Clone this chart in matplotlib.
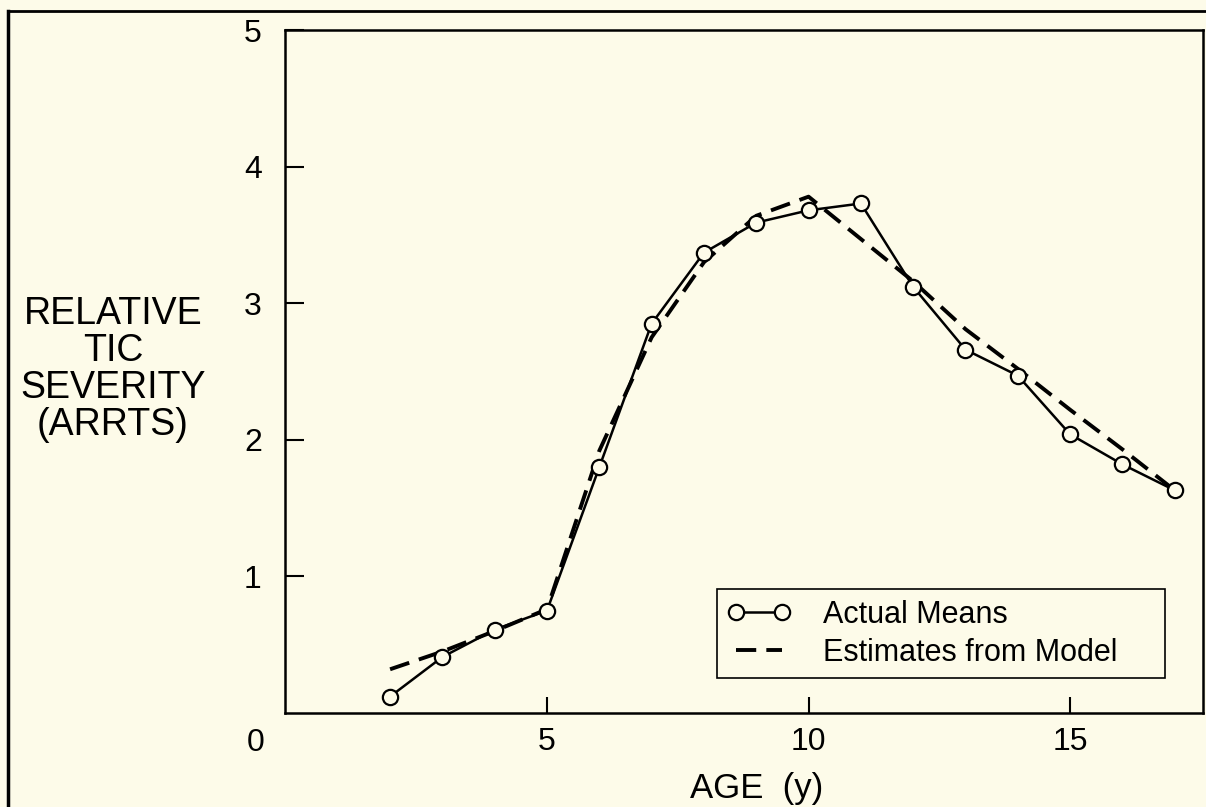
import matplotlib
matplotlib.use("Agg")
import matplotlib.pyplot as plt
from matplotlib.lines import Line2D

plt.rcParams["font.family"] = ["Liberation Sans", "DejaVu Sans"]

# 年齢ごとの平均値（実測）とモデル推定値
ages = [2, 3, 4, 5, 6, 7, 8, 9, 10, 11, 12, 13, 14, 15, 16, 17]
actual_means = [0.12, 0.41, 0.61, 0.75, 1.80, 2.85, 3.37, 3.59,
                3.68, 3.73, 3.12, 2.66, 2.47, 2.04, 1.82, 1.63]
model_est = [0.32, 0.45, 0.60, 0.76, 1.92, 2.75, 3.30, 3.64,
             3.78, 3.47, 3.16, 2.81, 2.52, 2.22, 1.93, 1.63]

x_ticks = [5, 10, 15]
y_ticks = [1, 2, 3, 4, 5]

bg = "#fdfbe9"

fig = plt.figure(figsize=(12.06, 8.07), dpi=100, facecolor=bg)
ax = fig.add_axes([0.2367, 0.1165, 0.7608, 0.8463], facecolor=bg)

ax.plot(ages, actual_means, color="black", lw=1.8, marker="o", ms=11,
        mfc=bg, mec="black", mew=1.6, label="Actual Means", zorder=3)
est_line, = ax.plot(ages, model_est, color="black", lw=2.8, ls="--",
                    label="Estimates from Model", zorder=2)
est_line.set_dashes((5.2, 2.6))

ax.set_xlim(0, 17.54)
ax.set_ylim(0, 5)
ax.set_xticks(x_ticks)
ax.set_yticks(y_ticks)
ax.tick_params(axis="x", direction="in", length=11.5, width=1.5,
               labelsize=23, pad=10)
ax.tick_params(axis="y", direction="in", length=14, width=1.5,
               labelsize=23, pad=17)
for s in ax.spines.values():
    s.set_linewidth(1.8)

# 原点の "0"
ax.annotate("0", xy=(0, 0), xycoords="axes fraction", xytext=(-30, -30),
            textcoords="offset pixels", ha="center", va="center", fontsize=23)

ax.set_xlabel("AGE  (y)", fontsize=25)
ax.xaxis.set_label_coords(0.514, -0.111)
ax.xaxis.label.set_va("center")
ax.set_ylabel("RELATIVE\nTIC\nSEVERITY\n(ARRTS)", fontsize=27, rotation=0,
              ha="center", va="center", linespacing=1.04)
ax.yaxis.set_label_coords(-0.188, 0.503)

leg = ax.legend(loc="lower left", bbox_to_anchor=(0.470, 0.051, 0.4886, 0.13),
                mode="expand", borderaxespad=0, fontsize=22, numpoints=2,
                handlelength=2.1, handletextpad=1.05, borderpad=0.34,
                labelspacing=0.26, fancybox=False, framealpha=1,
                facecolor=bg, edgecolor="black")
leg.get_frame().set_linewidth(1.2)

# 外枠（左と上）
fig.add_artist(Line2D([8 / 1206, 8 / 1206], [0, 1 - 11 / 807],
                      transform=fig.transFigure, color="black", lw=2.5))
fig.add_artist(Line2D([8 / 1206, 1], [1 - 11 / 807, 1 - 11 / 807],
                      transform=fig.transFigure, color="black", lw=2.0))

fig.savefig("out.png", dpi=100, facecolor=bg)
